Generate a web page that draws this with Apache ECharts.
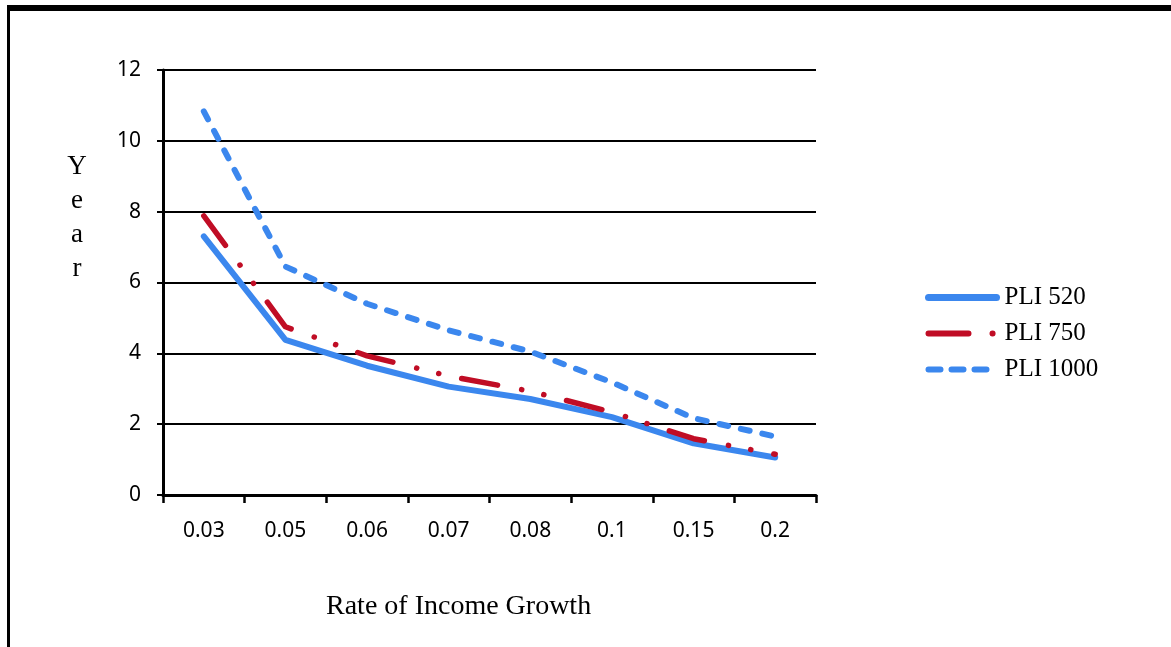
<!DOCTYPE html>
<html>
<head>
<meta charset="utf-8">
<script src="https://cdn.jsdelivr.net/npm/echarts@6/dist/echarts.min.js"></script>
<style>
  html, body { margin: 0; padding: 0; background: #ffffff; }
  #chart { width: 1171px; height: 647px; }
</style>
</head>
<body>
<div id="chart"></div>
<script>
// Years needed at each rate of income growth, for three poverty-line incomes
const growthRates = ['0.03', '0.05', '0.06', '0.07', '0.08', '0.1', '0.15', '0.2'];
const pli520 = [7.3, 4.38, 3.65, 3.06, 2.71, 2.2, 1.46, 1.06];
const pli750 = [7.88, 4.75, 3.93, 3.36, 2.93, 2.34, 1.59, 1.15];
const pli1000 = [10.83, 6.45, 5.4, 4.65, 4.05, 3.18, 2.17, 1.65];
const yTicks = { min: 0, max: 12, interval: 2 };

const BLUE = '#3b87ee';
const RED = '#c00d25';
const serif = '"Liberation Serif", "DejaVu Serif", serif';
const sans = '"Noto Sans", "Open Sans", sans-serif';

const chart = echarts.init(document.getElementById('chart'), null, { renderer: 'canvas' });

chart.setOption({
  animation: false,
  backgroundColor: '#ffffff',
  grid: { left: 163, right: 355, top: 70, bottom: 152, containLabel: false },
  xAxis: {
    type: 'category',
    data: growthRates,
    boundaryGap: true,
    axisLine: { show: true, lineStyle: { color: '#000', width: 3 } },
    axisTick: { show: true, length: 8, lineStyle: { color: '#000', width: 2.5 } },
    axisLabel: { color: '#000', fontFamily: sans, fontSize: 21, margin: 26 },
    splitLine: { show: false }
  },
  yAxis: {
    type: 'value',
    min: yTicks.min,
    max: yTicks.max,
    interval: yTicks.interval,
    axisLine: { show: true, lineStyle: { color: '#000', width: 3 } },
    axisTick: { show: true, length: 6, lineStyle: { color: '#000', width: 2 } },
    axisLabel: { color: '#000', fontFamily: sans, fontSize: 21, margin: 22 },
    splitLine: { show: true, lineStyle: { color: '#000', width: 2 } }
  },
  legend: {
    orient: 'vertical',
    left: 920,
    top: 280,
    itemWidth: 68,
    itemHeight: 14,
    itemGap: 11,
    itemStyle: { opacity: 0, borderWidth: 0 },
    textStyle: { color: '#000', fontFamily: serif, fontSize: 25, lineHeight: 25, padding: [0, 0, 0, 3] },
    data: [
      { name: 'PLI 520',
        lineStyle: { width: 7, type: 'solid', cap: 'round', color: BLUE } },
      { name: 'PLI 750',
        lineStyle: { width: 6, type: [40, 24, 0.1, 40], cap: 'round', color: RED } },
      { name: 'PLI 1000',
        lineStyle: { width: 6, type: [12, 11, 12, 11, 12, 100], cap: 'round', color: BLUE } }
    ]
  },
  series: [
    {
      name: 'PLI 520',
      type: 'line',
      data: pli520,
      symbol: 'none',
      color: BLUE,
      lineStyle: { color: BLUE, width: 6, cap: 'round', join: 'round' },
      z: 3
    },
    {
      name: 'PLI 750',
      type: 'line',
      data: pli750,
      symbol: 'none',
      color: RED,
      lineStyle: { color: RED, width: 5.5, type: [36.5, 24.5, 0.1, 22.6, 0.1, 23.4], cap: 'round', join: 'round' },
      z: 4
    },
    {
      name: 'PLI 1000',
      type: 'line',
      data: pli1000,
      symbol: 'none',
      color: BLUE,
      lineStyle: { color: BLUE, width: 6, type: [9, 13], cap: 'round', join: 'round' },
      z: 3
    }
  ],
  graphic: [
    // page frame
    { type: 'rect', shape: { x: 7, y: 5, width: 1164, height: 6 }, style: { fill: '#000' }, silent: true },
    { type: 'rect', shape: { x: 7, y: 5, width: 3, height: 642 }, style: { fill: '#000' }, silent: true },
    // axis titles
    {
      type: 'text', x: 77, y: 150,
      style: { text: 'Y\ne\na\nr', fill: '#000', font: '27px ' + serif, lineHeight: 34, align: 'center', verticalAlign: 'top' }
    },
    {
      type: 'text', x: 326, y: 593,
      style: { text: 'Rate of Income Growth', fill: '#000', font: '28px ' + serif, verticalAlign: 'top' }
    }
  ]
});
</script>
</body>
</html>
